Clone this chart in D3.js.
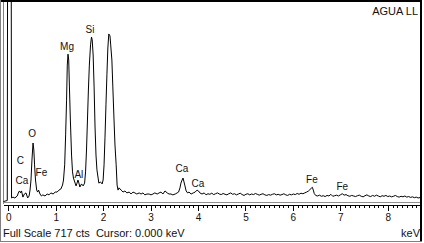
<!DOCTYPE html>
<html lang="es">
<head>
  <meta charset="UTF-8">
  <title>AGUA LL - espectro EDS</title>
  <style>
    body {
      margin: 0;
      padding: 0;
      background-color: #ffffff;
    }

    svg {
      display: block;
      font-family: 'Liberation Sans', Arial, sans-serif;
    }

    .axis text {
      font-size: 10px;
      fill: #111;
    }

    .axis path,
    .axis line {
      stroke: #000;
      shape-rendering: crispEdges;
    }

    .peak-label {
      font-size: 10px;
      fill: #111;
      text-anchor: middle;
    }

    .spectrum {
      fill: none;
      stroke: #000;
      stroke-width: 1;
    }
  </style>
</head>
<body>
  <svg width="424" height="243"></svg>

  <script src="https://d3js.org/d3.v7.min.js"></script>
  <script>
    // spectrum: [energy keV, counts]
    const spectrum = [
      [-0.10, 5], [-0.02, 9], [0.00, 2500], [0.05, 2500], [0.07, 18],
      [0.10, 21], [0.14, 18], [0.19, 25], [0.22, 39], [0.24, 43], [0.26, 36],
      [0.28, 43], [0.31, 21], [0.34, 32], [0.375, 36], [0.41, 18], [0.44, 25],
      [0.46, 46], [0.48, 82], [0.50, 153], [0.523, 214], [0.54, 189], [0.555, 136],
      [0.575, 82], [0.60, 46], [0.62, 39], [0.64, 46], [0.67, 32], [0.70, 25],
      [0.73, 29], [0.775, 25], [0.82, 32], [0.86, 29], [0.90, 36], [0.945, 32],
      [0.99, 39], [1.03, 39], [1.07, 46], [1.11, 50], [1.145, 64], [1.165, 82],
      [1.19, 136], [1.21, 243], [1.23, 367], [1.245, 492], [1.26, 531], [1.275, 510],
      [1.29, 414], [1.31, 296], [1.335, 171], [1.355, 111], [1.375, 89], [1.41, 71],
      [1.43, 61], [1.45, 71], [1.47, 82], [1.49, 71], [1.51, 57], [1.545, 68],
      [1.58, 61], [1.61, 71], [1.63, 111], [1.65, 189], [1.67, 296], [1.69, 403],
      [1.71, 492], [1.735, 564], [1.755, 592], [1.77, 582], [1.79, 528], [1.81, 414],
      [1.83, 271], [1.85, 171], [1.87, 118], [1.895, 89], [1.91, 71], [1.945, 75],
      [1.98, 68], [2.00, 82], [2.02, 136], [2.04, 235], [2.06, 350], [2.08, 457],
      [2.10, 553], [2.12, 603], [2.145, 596], [2.16, 564], [2.185, 510], [2.205, 414],
      [2.23, 296], [2.25, 207], [2.275, 136], [2.295, 64], [2.315, 46], [2.335, 54],
      [2.38, 46], [2.42, 39], [2.46, 43], [2.50, 36], [2.55, 39], [2.59, 32],
      [2.63, 39], [2.67, 36], [2.71, 32], [2.76, 36], [2.80, 32], [2.84, 36],
      [2.88, 29], [2.925, 32], [2.97, 32], [3.01, 29], [3.05, 32], [3.09, 36],
      [3.14, 32], [3.18, 36], [3.22, 39], [3.26, 32], [3.305, 43], [3.35, 36],
      [3.39, 32], [3.43, 32], [3.47, 29], [3.52, 32], [3.56, 36], [3.59, 39],
      [3.62, 54], [3.64, 71], [3.665, 82], [3.685, 89], [3.705, 75], [3.725, 61],
      [3.75, 43], [3.78, 36], [3.81, 39], [3.855, 32], [3.90, 36], [3.94, 39],
      [3.98, 46], [4.01, 43], [4.04, 36], [4.085, 32], [4.13, 36], [4.17, 29],
      [4.21, 33], [4.25, 31], [4.29, 35], [4.33, 30], [4.37, 33], [4.41, 36],
      [4.45, 32], [4.49, 30], [4.53, 34], [4.57, 31], [4.61, 29], [4.65, 33],
      [4.69, 36], [4.73, 31], [4.77, 33], [4.81, 29], [4.85, 32], [4.89, 35],
      [4.93, 30], [4.97, 27], [5.01, 31], [5.05, 33], [5.09, 29], [5.13, 32],
      [5.17, 30], [5.21, 34], [5.25, 31], [5.29, 28], [5.33, 31], [5.37, 33],
      [5.41, 29], [5.45, 27], [5.49, 30], [5.53, 28], [5.57, 31], [5.61, 33],
      [5.65, 29], [5.69, 31], [5.73, 28], [5.77, 30], [5.81, 33], [5.85, 29],
      [5.89, 27], [5.93, 31], [5.97, 29], [6.01, 32], [6.05, 30], [6.09, 34],
      [6.13, 31], [6.17, 35], [6.21, 33], [6.25, 36], [6.29, 39], [6.33, 43],
      [6.36, 48], [6.39, 53], [6.41, 56], [6.43, 46], [6.45, 34], [6.48, 27],
      [6.52, 25], [6.56, 28], [6.60, 24], [6.64, 26], [6.68, 23], [6.72, 27],
      [6.76, 25], [6.80, 31], [6.84, 24], [6.88, 26], [6.92, 28], [6.96, 25],
      [7.00, 29], [7.04, 33], [7.08, 28], [7.12, 30], [7.16, 26], [7.20, 24],
      [7.24, 27], [7.28, 25], [7.32, 23], [7.36, 26], [7.40, 28], [7.44, 24],
      [7.48, 22], [7.52, 26], [7.56, 29], [7.60, 25], [7.64, 23], [7.68, 27],
      [7.72, 24], [7.76, 28], [7.80, 25], [7.84, 22], [7.88, 26], [7.92, 24],
      [7.96, 27], [8.00, 23], [8.04, 25], [8.08, 22], [8.12, 24], [8.16, 27],
      [8.20, 23], [8.24, 21], [8.28, 24], [8.32, 22], [8.36, 25], [8.40, 21],
      [8.44, 23], [8.48, 20], [8.52, 22], [8.56, 19], [8.60, 21], [8.64, 18],
      [8.70, 20]
    ];

    // element labels: name, energy (keV), label baseline (counts)
    const labelNames = ["C", "Ca", "O", "Fe", "Mg", "Al", "Si", "Ca", "Ca", "Fe", "Fe"];
    const labelKeV = [0.255, 0.29, 0.505, 0.70, 1.24, 1.49, 1.725, 3.66, 4.00, 6.40, 7.04];
    const labelCounts = [139, 68, 235, 96, 544, 89, 607, 111, 57, 71, 46];

    const majorTicks = [0, 1, 2, 3, 4, 5, 6, 7, 8];
    const minorTicks = d3.range(0, 87).map((i) => i / 10);

    const fullScale = 717;
    const sampleName = "AGUA LL";

    const svg = d3.select("svg");
    const width = +svg.attr("width");
    const height = +svg.attr("height");

    const plot = { left: 3, right: 421, top: 2, bottom: 203 };

    const x = d3.scaleLinear().domain([-0.11, 8.70]).range([plot.left, plot.right]);
    const y = d3.scaleLinear().domain([0, fullScale]).range([plot.bottom, plot.top]);

    svg.append("rect").attr("width", width).attr("height", height).attr("fill", "#fff");

    svg.append("clipPath")
      .attr("id", "plot-clip")
      .append("rect")
      .attr("x", plot.left)
      .attr("y", plot.top)
      .attr("width", plot.right - plot.left)
      .attr("height", plot.bottom - plot.top);

    // plot box edges
    svg.append("line")
      .attr("x1", 3.5).attr("x2", 3.5).attr("y1", plot.top).attr("y2", 204)
      .attr("stroke", "#808080");
    svg.append("line")
      .attr("x1", plot.left).attr("x2", plot.right).attr("y1", 202.5).attr("y2", 202.5)
      .attr("stroke", "#909090");

    // spectrum trace
    const line = d3.line()
      .x((d) => x(d[0]))
      .y((d) => y(d[1]));

    svg.append("path")
      .datum(spectrum)
      .attr("class", "spectrum")
      .attr("clip-path", "url(#plot-clip)")
      .attr("d", line);

    // element labels
    svg.append("g")
      .selectAll("text")
      .data(labelNames)
      .enter()
      .append("text")
      .attr("class", "peak-label")
      .attr("x", (d, i) => x(labelKeV[i]))
      .attr("y", (d, i) => y(labelCounts[i]))
      .text((d) => d);

    // energy axis
    const axisY = 204.5;
    svg.append("g")
      .attr("class", "axis")
      .attr("transform", `translate(0,${axisY})`)
      .call(d3.axisBottom(x).tickValues(minorTicks).tickSize(3).tickSizeOuter(0).tickFormat(""));

    svg.append("g")
      .attr("class", "axis")
      .attr("transform", `translate(0,${axisY})`)
      .call(d3.axisBottom(x).tickValues(majorTicks).tickSize(6).tickSizeOuter(0).tickPadding(3).tickFormat(d3.format("d")))
      .call((g) => g.select(".domain").remove());

    // texts
    svg.append("text")
      .attr("x", 418)
      .attr("y", 15)
      .attr("text-anchor", "end")
      .attr("font-size", 11)
      .attr("fill", "#111")
      .text(sampleName);

    svg.append("text")
      .attr("x", 3)
      .attr("y", 237)
      .attr("font-size", 11)
      .attr("fill", "#111")
      .text(`Full Scale ${fullScale} cts  Cursor: 0.000 keV`)
      .style("white-space", "pre");

    svg.append("text")
      .attr("x", 420)
      .attr("y", 237)
      .attr("text-anchor", "end")
      .attr("font-size", 11)
      .attr("fill", "#111")
      .text("keV");

    // outer frame
    svg.append("line").attr("x1", 0).attr("x2", 422).attr("y1", 1).attr("y2", 1)
      .attr("stroke", "#000").attr("stroke-width", 2);
    svg.append("line").attr("x1", 421).attr("x2", 421).attr("y1", 0).attr("y2", 242)
      .attr("stroke", "#000").attr("stroke-width", 2);
    svg.append("line").attr("x1", 0.5).attr("x2", 0.5).attr("y1", 0).attr("y2", 242)
      .attr("stroke", "#808080");
    svg.append("line").attr("x1", 0).attr("x2", 422).attr("y1", 241.5).attr("y2", 241.5)
      .attr("stroke", "#808080");
  </script>
</body>
</html>
